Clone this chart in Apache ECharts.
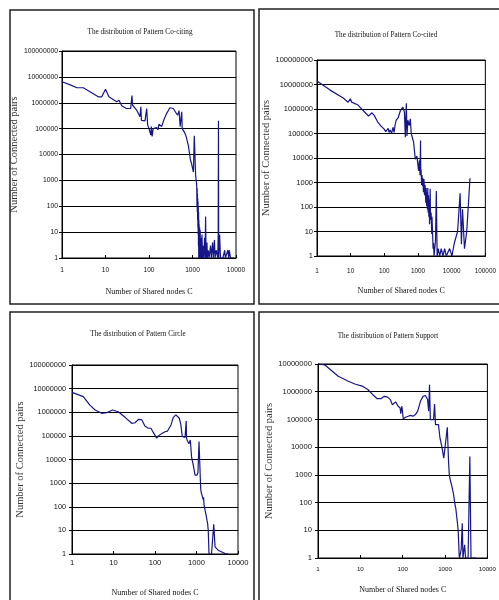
<!DOCTYPE html>
<html>
<head>
<meta charset="utf-8">
<script src="https://cdn.jsdelivr.net/npm/echarts@6/dist/echarts.min.js"></script>
<style>html,body{margin:0;padding:0;background:#fff;}#c{width:499px;height:600px;}</style>
</head>
<body>
<div id="c"></div>
<script>
// ---- data ----
const titles = ['The distribution of Pattern Co-citing','The distribution of Pattern Co-cited','The distribution of Pattern Circle','The distribution of Pattern Support'];
const xAxisTitle = 'Number of Shared nodes C';
const yAxisTitle = 'Number of Connected pairs';
const xTickLabels = ['1','10','100','1000','10000','100000'];
const yTickLabels = ['1','10','100','1000','10000','100000','1000000','10000000','100000000'];

const coCitingX = [1,1.5,2.2,3.1,4.5,6.8,8.2,10,12,18,20.4,23.6,30,38,40.6,42,52,62,65,67,81,88.5,93,100,105,110,113,118,125,137,150,160,170,180,195,220,255,303,362,420,457,490,520,565,580,620,660,700,800,900,950,1000,1050,1100,1150,1180,1250,1270,1280,1290,1300,1310,1320,1330,1340,1350,1360,1370,1380,1390,1400,1410,1420,1440,1460,1480,1500,1520,1550,1600,1650,1700,1750,1800,1900,1950,2000,2050,2150,2200,2300,2400,2600,2700,2900,3000,3200,3300,3500,3800,3900,3950,4000,4200,4400,5000,5500,5700,6500,6800,7000,7500,9000];
const coCitingY = [6.5e6,5e6,3.8e6,3.8e6,2.6e6,1.7e6,1.7e6,3.3e6,1.7e6,1.1e6,1.25e6,7.6e5,6e5,6e5,1.9e6,8e5,5.2e5,2.9e5,7e5,2.1e5,2e5,6e5,1.4e5,1e5,9e4,5.6e4,1.2e5,5e4,1e5,8.8e4,1.1e5,9e4,1.5e5,1.6e5,1.2e5,2.2e5,3.9e5,6.4e5,6e5,4e5,3.3e5,5e5,1.2e5,4.5e5,1e5,8.8e4,7e4,5.6e4,2.3e4,6e3,4.5e3,3e3,2.1e3,5.3e4,5e4,1.6e3,650,100,500,60,300,30,200,15,150,8,100,3,60,1,30,1,20,1,15,1,12,1,6,1,8,1,3,1,6,1,40,1,4,1,2,1,3,1,4,1,5,1,2,1,8,2e5,1,8,1,1,2,1,2,1,2,1,1];

const coCitedX = [1,2.45,6,8.4,9.8,10.7,16,29,34,43,50,63,80,90,99,110,123,130,138,150,165,180,195,207,225,256,302,355,395,420,450,470,500,550,590,630,740,830,930,1040,1100,1150,1190,1210,1230,1280,1320,1350,1400,1450,1500,1560,1620,1700,1750,1800,1850,1900,1950,2000,2050,2100,2150,2200,2300,2350,2450,2550,2600,2700,2800,2900,3000,3300,3500,3700,4000,4400,4900,5500,6200,6900,8700,10200,12000,15000,17800,19500,21000,24000,28000,35000];
const coCitedY = [1.4e7,5.9e6,2.8e6,1.9e6,2.6e6,1.9e6,1.5e6,6.4e5,5.2e5,7e5,5.5e5,3e5,2e5,2.2e5,1.5e5,1.2e5,1e5,1.6e5,1.1e5,1.4e5,1e5,1.8e5,1.1e5,2.1e5,3.5e5,4.3e5,8.9e5,1.2e6,7.5e5,7e4,1.7e6,8e4,3.5e5,2.1e5,4e5,1e5,4.4e4,9e3,1.2e4,3e3,8e3,2e3,5.2e4,2e3,3.5e3,800,2e3,720,1.5e3,400,1.4e3,300,800,150,600,110,400,80,600,60,300,40,200,20,550,30,60,8,40,10,2,3.4,1,4,450,1,2,1,2,1,2,1,2,1,3.4,10,360,3,80,2,10,1500];

const circleX = [1,1.87,2.7,3.6,5.2,6.8,9.5,13,19,27.5,33,40,48,57,69,80,91,110,120,132,150,174,200,218,243,276,318,385,420,455,530,565,575,590,660,710,760,850,920,1030,1085,1150,1240,1260,1290,1330,1360,1400,1450,1480,1520,1560,1610,1650,1700,1740,1800,1850,1920,2000,2300,2600,2800,3400,4900,5800];
const circleY = [6.9e6,4.6e6,2e6,1.25e6,9e5,9.5e5,1.25e6,1.05e6,6.1e5,3.4e5,3.6e5,5e5,4.8e5,2.6e5,2.1e5,2.1e5,1.4e5,8e4,1e5,1.2e5,1.3e5,1.5e5,1.6e5,1.8e5,2.9e5,6.1e5,7.7e5,5.6e5,2.9e5,9.4e4,8.7e4,4.3e5,8.7e4,6.7e4,4.6e4,6.7e4,1.3e4,5e3,2.2e3,2.2e3,2.8e3,5.7e4,1.3e3,600,430,350,400,250,200,250,120,140,70,80,45,38,25,20,10,1,1,18,2,1.4,1.05,1];

const supportX = [1,1.48,3,5.2,7.4,11.5,15,19.7,25,30.6,36.6,44,51,57,68,72,78,87,90,96,103,117,135,153,175,200,226,262,302,343,387,410,430,450,535,565,595,660,700,760,840,935,1030,1130,1210,1260,1300,1340,1420,1460,1500,1570,1620,1680,1730,1800,1860,1950,2050,2150,2200,2400,2550,2650,2900,3050,3500,3850,4100,5400];
const supportY = [1.05e7,9e6,3.6e6,2.4e6,1.9e6,1.55e6,1.2e6,7.8e5,5.6e5,5.6e5,6.8e5,6.4e5,5.2e5,3.4e5,4.3e5,4.8e5,3e5,2.6e5,1.6e5,3e5,1.05e5,1.2e5,1.3e5,1.4e5,1.3e5,1.5e5,2e5,4.5e5,6.8e5,7.3e5,5.2e5,2e5,1.8e6,9.8e4,9.8e4,3.6e5,6.5e4,5.6e4,6.5e4,2.1e4,1.05e4,4e3,3.5e3,5.2e4,2.9e3,1e3,800,600,450,400,300,220,200,110,80,60,37,20,9,1.3,1,2,18,1,3,1,1,4600,1,1];

// ---- chart ----
const seriesX = [coCitingX, coCitedX, circleX, supportX];
const seriesY = [coCitingY, coCitedY, circleY, supportY];
const zip = (xs, ys) => xs.map((x, i) => [x, ys[i]]);

const grids = [
  {left: 62, top: 51, width: 174, height: 207},
  {left: 317, top: 60, width: 171, height: 196},
  {left: 72, top: 365, width: 166, height: 189},
  {left: 318, top: 364, width: 172, height: 194}
];
const xMax = [10000, 100000, 10000, 10000];
const yMax = [1e8, 1e8, 1e8, 1e7];
const yLabelSize = [6.8, 7.5, 7.3, 7.6];
const xLabelSize = [6.6, 6.4, 7.6, 6.2];
const yLabelMargin = [4, 4, 6, 6];
const xLabelMargin = [9, 12, 5, 8];
const yNameGap = [35, 40, 43, 39];
const xNameGap = [30, 31, 35, 28];
const titlePos = [[135, 24], [381, 27], [133, 326], [383, 328]];

const serif = 'Liberation Serif, Times New Roman, serif';
const sans = 'Liberation Sans, Arial, sans-serif';
const ink = '#000';
const lineColor = '#16168a';

const option = {
  backgroundColor: '#fff',
  animation: false,
  title: titles.map((t, i) => ({
    text: t, left: titlePos[i][0], top: titlePos[i][1], textAlign: 'center',
    textStyle: {fontFamily: serif, fontSize: 7.2, fontWeight: 'normal', color: '#111'}
  })),
  graphic: [
    {type: 'rect', shape: {x: 10, y: 10, width: 244, height: 294}, style: {fill: 'none', stroke: '#222', lineWidth: 1.5}},
    {type: 'rect', shape: {x: 259, y: 9, width: 260, height: 295}, style: {fill: 'none', stroke: '#222', lineWidth: 1.5}},
    {type: 'rect', shape: {x: 10, y: 312, width: 244, height: 300}, style: {fill: 'none', stroke: '#222', lineWidth: 1.5}},
    {type: 'rect', shape: {x: 259, y: 312, width: 260, height: 300}, style: {fill: 'none', stroke: '#222', lineWidth: 1.5}}
  ],
  grid: grids.map(g => Object.assign({show: true, borderColor: ink, borderWidth: 1, containLabel: false}, g)),
  xAxis: grids.map((g, i) => ({
    type: 'log', logBase: 10, gridIndex: i, min: 1, max: xMax[i], splitNumber: 10,
    axisLine: {show: true, lineStyle: {color: ink, width: 1}},
    axisTick: {show: true, inside: true, length: 3, lineStyle: {color: ink}},
    minorTick: {show: false},
    splitLine: {show: false},
    axisLabel: {
      fontFamily: sans, fontSize: xLabelSize[i], color: '#111', margin: xLabelMargin[i],
      formatter: v => xTickLabels[Math.round(Math.log10(v))]
    },
    name: xAxisTitle, nameLocation: 'middle', nameGap: xNameGap[i],
    nameTextStyle: {fontFamily: serif, fontSize: 8, color: '#111'}
  })),
  yAxis: grids.map((g, i) => ({
    type: 'log', logBase: 10, gridIndex: i, min: 1, max: yMax[i], splitNumber: 10,
    axisLine: {show: true, lineStyle: {color: ink, width: 1}},
    axisTick: {show: true, inside: false, length: 3, lineStyle: {color: ink}},
    minorTick: {show: false},
    splitLine: {show: true, lineStyle: {color: ink, width: 1}},
    axisLabel: {
      fontFamily: sans, fontSize: yLabelSize[i], color: '#111', margin: yLabelMargin[i],
      formatter: v => yTickLabels[Math.round(Math.log10(v))]
    },
    name: yAxisTitle, nameLocation: 'middle', nameRotate: 90, nameGap: yNameGap[i],
    nameTextStyle: {fontFamily: serif, fontSize: 10.5, color: '#333'}
  })),
  series: seriesX.map((xs, i) => ({
    type: 'line', xAxisIndex: i, yAxisIndex: i,
    data: zip(xs, seriesY[i]),
    showSymbol: false, symbol: 'none', clip: true,
    lineStyle: {color: lineColor, width: 1.2},
    emphasis: {disabled: true}
  }))
};

const chart = echarts.init(document.getElementById('c'), null, {renderer: 'canvas'});
chart.setOption(option);
</script>
</body>
</html>
